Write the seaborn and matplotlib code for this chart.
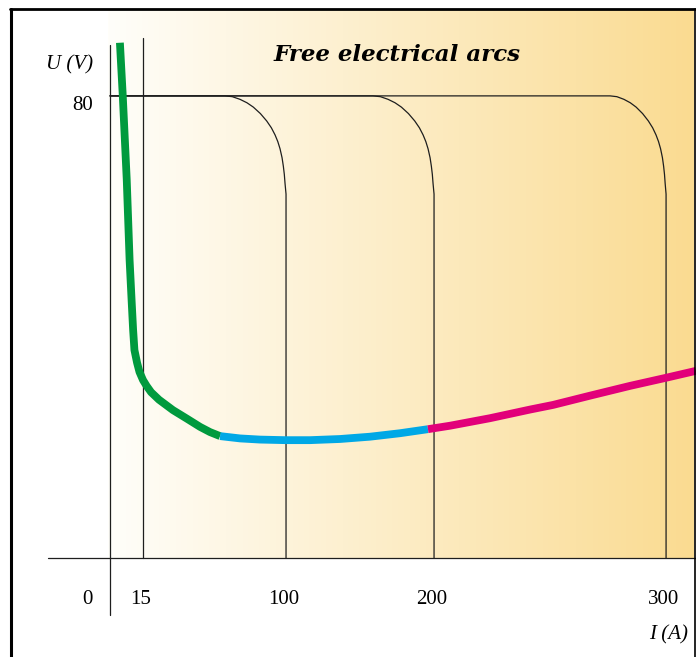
import numpy as np
import pandas as pd
import matplotlib
matplotlib.use("Agg")
import matplotlib.pyplot as plt
from matplotlib.lines import Line2D
import seaborn as sns

sns.set_style("white")

# --- data (current I in A, voltage U in V) ---
green_I = [4.5, 5.8, 7.6, 8.9, 9.8, 10.5, 11.1, 12.3, 13.4, 15.0, 17.1, 19.8,
           24.5, 32.8, 41.2, 48.9, 54.8, 60.8]
green_U = [89.2, 80.0, 65.5, 51.6, 44.7, 39.5, 36.0, 33.8, 32.2, 30.8, 29.8, 28.7,
           27.4, 25.6, 24.1, 22.7, 21.8, 21.1]
blue_I = [60.8, 72.7, 84.5, 99.4, 116.2, 136.5, 156.8, 177.0, 195.9]
blue_U = [21.1, 20.7, 20.5, 20.4, 20.4, 20.6, 21.0, 21.6, 22.3]
magenta_I = [195.9, 206.9, 224.1, 241.4, 251.3, 267.2, 284.5, 300.0, 312.9]
magenta_U = [22.3, 22.9, 24.2, 25.7, 26.5, 28.1, 29.8, 31.2, 32.4]

# power source characteristics: open voltage 80 V, rounded knee down to I_end
source_end = [100, 200, 300]
knee_start = [63.7, 158.8, 275.9]
knee_drop = 17.0
open_voltage = 80
# knee shape (fraction across, fraction down)
knee_fx = [0.0, 0.12, 0.246, 0.36, 0.464, 0.58, 0.683, 0.76, 0.82, 0.865,
           0.902, 0.935, 0.956, 0.972, 0.984, 1.0]
knee_fy = [0.0, 0.008, 0.035, 0.07, 0.114, 0.18, 0.255, 0.325, 0.397, 0.465,
           0.539, 0.63, 0.716, 0.80, 0.894, 1.0]

x_ticks = [15, 100, 200, 300]
x_tick_labels = ["15", "100", "200", "300"]

# schematic (non-linear) current axis
amp_knots = np.array([0, 15, 100, 200, 300], float)
pos_knots = np.array([0, 33, 176, 324, 556], float)


def _piecewise(v, xs, ys):
    v = np.asarray(v, float)
    out = np.interp(v, xs, ys)
    lo_slope = (ys[1] - ys[0]) / (xs[1] - xs[0])
    hi_slope = (ys[-1] - ys[-2]) / (xs[-1] - xs[-2])
    out = np.where(v < xs[0], ys[0] + (v - xs[0]) * lo_slope, out)
    out = np.where(v > xs[-1], ys[-1] + (v - xs[-1]) * hi_slope, out)
    return out


def fwd(v):
    return _piecewise(v, amp_knots, pos_knots)


def inv(v):
    return _piecewise(v, pos_knots, amp_knots)


fig = plt.figure(figsize=(6.96, 6.57), dpi=100)

# gradient background
bg = fig.add_axes([108 / 696, 99 / 657, 586 / 696, 548 / 657])
grad = np.linspace(0, 1, 256)
c0 = np.array([255, 254, 250]) / 255
c1 = np.array([250, 219, 145]) / 255
img = (c0[None, :] + (c1 - c0)[None, :] * grad[:, None])[None, :, :]
bg.imshow(img, aspect="auto", extent=[0, 1, 0, 1])
bg.set_axis_off()

ax = fig.add_axes([0, 0, 1, 1])
ax.patch.set_alpha(0)
ax.set_xscale("function", functions=(fwd, inv))
ax.set_xlim(-50, 312.9)
ax.set_ylim(-17.14, 96.6)
ax.set_axis_off()

line_kw = dict(color="#1e1e1e", lw=0.9)
# axes
ax.plot([0, 0], [-9.9, 88.8], **line_kw)
ax.plot([-28.2, 312.9], [0, 0], **line_kw)
ax.plot([15, 15], [0, 90.0], **line_kw)

# source characteristics
for end, start in zip(source_end, knee_start):
    kx = [start + f * (end - start) for f in knee_fx]
    ky = [open_voltage - f * knee_drop for f in knee_fy]
    ax.plot([0] + kx + [end], [open_voltage] + ky + [0], **line_kw)

# arc characteristic
for xs, ys, col in [(green_I, green_U, "#009a3e"),
                    (blue_I, blue_U, "#00a8e6"),
                    (magenta_I, magenta_U, "#e2007a")]:
    sns.lineplot(x=xs, y=ys, ax=ax, sort=False, color=col, lw=5.6,
                 solid_capstyle="butt", solid_joinstyle="round", zorder=5)

serif = "Liberation Serif"
txt = dict(fontsize=15, family=serif, color="black", va="center")
for v, lab in zip(x_ticks, x_tick_labels):
    ax.annotate(lab, xy=(v, 0), xytext=(-1.5, -30), textcoords="offset points",
                ha="center", **txt)
ax.annotate("0", xy=(0, 0), xytext=(-16, -30), textcoords="offset points",
            ha="center", **txt)
ax.annotate("80", xy=(0, open_voltage), xytext=(-12, -7), textcoords="offset points",
            ha="right", **txt)
ax.annotate("U (V)", xy=(0, open_voltage), xytext=(-12, 22), textcoords="offset points",
            ha="right", style="italic", **txt)
ax.annotate("I (A)", xy=(312.9, 0), xytext=(-6, -55), textcoords="offset points",
            ha="right", style="italic", **txt)

fig.text(397 / 696, 1 - 55 / 657, "Free electrical arcs", ha="center", va="center",
         fontsize=16.5, family="DejaVu Serif", weight="bold", style="italic",
         color="black")

# frame
fig.add_artist(Line2D([10 / 696, 1], [1 - 9 / 657] * 2, color="black", lw=2,
                      transform=fig.transFigure))
fig.add_artist(Line2D([10.5 / 696] * 2, [0, 1 - 9 / 657], color="black", lw=2.2,
                      transform=fig.transFigure))
fig.add_artist(Line2D([694.5 / 696] * 2, [0, 1 - 9 / 657], color="black", lw=1.2,
                      transform=fig.transFigure))

fig.savefig("out.png", dpi=100)
